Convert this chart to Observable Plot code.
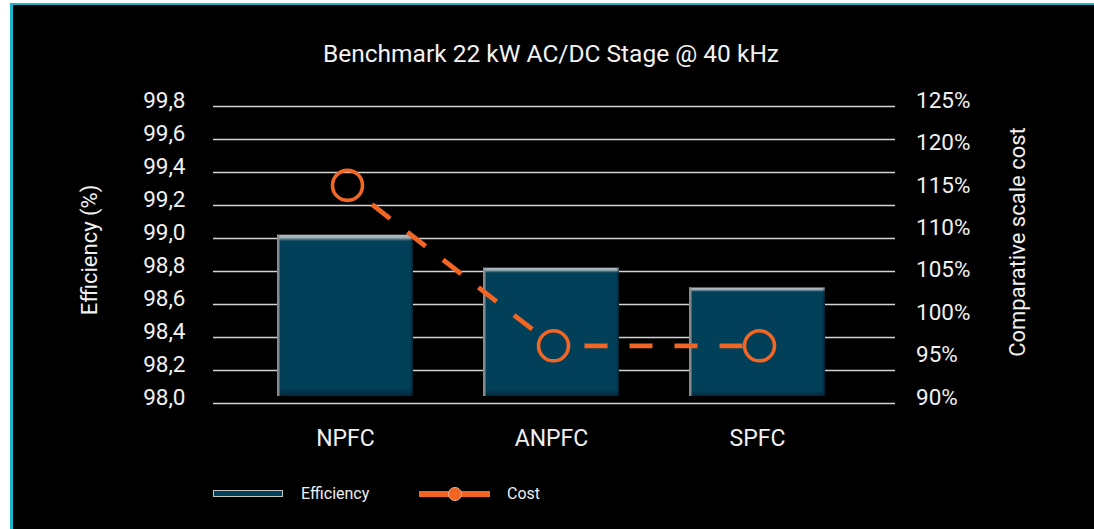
<!DOCTYPE html>
<html>
<head>
<meta charset="utf-8">
<script src="https://cdn.jsdelivr.net/npm/d3@7"></script>
<script src="https://cdn.jsdelivr.net/npm/@observablehq/plot@0.6"></script>
<style>
  html, body { margin: 0; padding: 0; background: #fff; width: 1094px; height: 529px; overflow: hidden;
    font-family: Roboto, "DejaVu Sans", sans-serif; }
  #panel { position: absolute; left: 10px; top: 3px; width: 1084px; height: 526px; box-sizing: border-box;
    background: #000; border-left: 3px solid #1cb4c8; border-top: 2px solid #1cb4c8; }
  #title { position: absolute; left: 551px; top: 40px; transform: translateX(-50%); white-space: nowrap;
    color: #f2f2f2; font-size: 24.5px; line-height: 28px; }
  #chart { position: absolute; left: 13px; top: 75px; }
  .legtext { position: absolute; color: #eeeeee; font-size: 16px; line-height: 20px; top: 484px; white-space: nowrap; }
  #sw1 { position: absolute; left: 213px; top: 490px; width: 70px; height: 7px; box-sizing: border-box;
    background: #023f58; border: 1px solid #c4c4c4; }
  #sw2 { position: absolute; left: 419px; top: 491px; width: 71px; height: 6px; background: #f26522; }
  #sw2dot { position: absolute; left: 448px; top: 487px; width: 14px; height: 14px; box-sizing: border-box;
    border-radius: 50%; background: #f26522; border: 1px solid #f7b08c; }
</style>
</head>
<body>
<div id="panel"></div>
<div id="title">Benchmark 22 kW AC/DC Stage @ 40 kHz</div>
<div id="chart"></div>
<div id="sw1"></div>
<div class="legtext" style="left:301px">Efficiency</div>
<div id="sw2"></div>
<div id="sw2dot"></div>
<div class="legtext" style="left:507px">Cost</div>
<script>
const categories = ["NPFC", "ANPFC", "SPFC"];
const efficiency = [99.02, 98.82, 98.70];
const cost = [115.7, 96.8, 96.8];
const effTicks = [98.0, 98.2, 98.4, 98.6, 98.8, 99.0, 99.2, 99.4, 99.6, 99.8];
const costTicks = [90, 95, 100, 105, 110, 115, 120, 125];

const effMin = 98.0, effMax = 99.8, costMin = 90, costMax = 125;
const toEff = c => effMin + (c - costMin) * (effMax - effMin) / (costMax - costMin);
const toCost = e => costMin + (e - effMin) * (costMax - costMin) / (effMax - effMin);

const bars = categories.map((c, i) => ({cat: c, eff: efficiency[i]}));
const pts = categories.map((c, i) => ({cat: c, cost: cost[i], y: toEff(cost[i])}));
const segs = [];
for (let i = 0; i < pts.length - 1; i++) {
  segs.push({x1: pts[i].cat, y1: pts[i].y, x2: pts[i + 1].cat, y2: pts[i + 1].y});
}

const orange = "#f26522";
const svg = Plot.plot({
  width: 1081,
  height: 390,
  marginLeft: 200,
  marginRight: 199,
  marginTop: 31,
  marginBottom: 62,
  style: {background: "transparent", color: "#f0f0f0", fontFamily: "Roboto, sans-serif", overflow: "visible"},
  x: {domain: categories, range: [193.3, 882.2], padding: 0.34},
  y: {domain: [effMin, effMax]},
  marks: [
    Plot.ruleY(effTicks, {stroke: "#d4d4d4", strokeWidth: 1.5}),
    Plot.barY(bars, {x: "cat", y1: effMin, y2: "eff", fill: "url(#barV)", insetBottom: 7}),
    Plot.barY(bars, {x: "cat", y1: effMin, y2: "eff", fill: "url(#barH)", insetBottom: 7}),
    Plot.arrow(segs, {x1: "x1", y1: "y1", x2: "x2", y2: "y2", headLength: 0, insetStart: 17, insetEnd: 17,
      stroke: orange, strokeWidth: 4.8, strokeLinecap: "butt", strokeDasharray: "23,22", strokeDashoffset: 31, dx: 2}),
    Plot.dot(pts, {x: "cat", y: "y", r: 15, stroke: orange, strokeWidth: 3.6, fill: "none", dx: 2}),
    Plot.axisY({anchor: "left", ticks: effTicks, tickSize: 0, tickPadding: 28,
      tickFormat: d => d.toFixed(1).replace(".", ","), fontSize: 22.5, dy: -6, label: null}),
    Plot.axisY({anchor: "right", ticks: costTicks.map(toEff), tickSize: 0, tickPadding: 20.5,
      tickFormat: d => Math.round(toCost(d)) + "%", fontSize: 22.5, dy: -6, label: null}),
    Plot.axisX({tickSize: 0, tickPadding: 26, fontSize: 23, label: null}),
    Plot.text(["Efficiency (%)"], {text: d => d, frameAnchor: "left", textAnchor: "middle", rotate: -90,
      dx: -123.5, dy: -5, fontSize: 22, fill: "#f0f0f0"}),
    Plot.text(["Comparative scale cost"], {text: d => d, frameAnchor: "right", textAnchor: "middle", rotate: -90,
      dx: 122, dy: -13, fontSize: 22, fill: "#f0f0f0"})
  ]
});

const defs = d3.select(svg).insert("defs", ":first-child");
const gv = defs.append("linearGradient").attr("id", "barV")
  .attr("x1", 0).attr("y1", 0).attr("x2", 0).attr("y2", 1);
[[0, "#b2bec2"], [0.018, "#9fafb5"], [0.03, "#4a6e7e"], [0.04, "#023f58"], [0.95, "#023f58"], [1, "#01283a"]]
  .forEach(([o, c]) => gv.append("stop").attr("offset", o).attr("stop-color", c));
const gh = defs.append("linearGradient").attr("id", "barH")
  .attr("x1", 0).attr("y1", 0).attr("x2", 1).attr("y2", 0);
[[0, "#8e8e8e", 1], [0.016, "#8e8e8e", 0.85], [0.022, "#8e8e8e", 0], [0.98, "#000", 0], [1, "#000", 0.5]]
  .forEach(([o, c, a]) => gh.append("stop").attr("offset", o).attr("stop-color", c).attr("stop-opacity", a));

document.getElementById("chart").appendChild(svg);
</script>
</body>
</html>
